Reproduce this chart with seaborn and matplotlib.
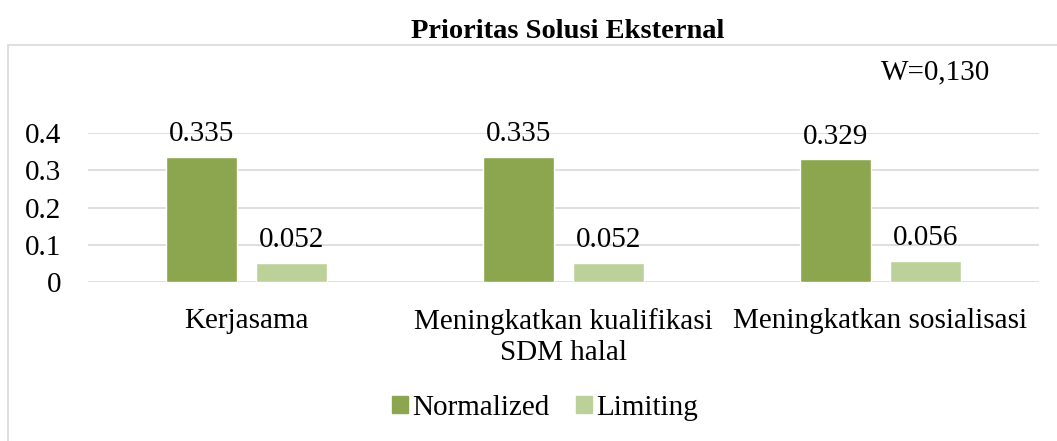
import pandas as pd
import matplotlib.pyplot as plt
import matplotlib.patches as mpatches
import seaborn as sns

# Data
kategori = ['Kerjasama', 'Meningkatkan kualifikasi\nSDM halal', 'Meningkatkan sosialisasi']
normalized = [0.335, 0.335, 0.329]
limiting = [0.052, 0.052, 0.056]
label_norm = ['0.335', '0.335', '0.329']
label_lim = ['0.052', '0.052', '0.056']
y_ticks = [0, 0.1, 0.2, 0.3, 0.4]
y_ticklabels = ['0', '0.1', '0.2', '0.3', '0.4']

df = pd.DataFrame({
    'Kategori': kategori * 2,
    'Nilai': normalized + limiting,
    'Tipe': ['Normalized'] * 3 + ['Limiting'] * 3,
})

sns.set_theme(style='white')
plt.rcParams['font.family'] = ['Liberation Serif', 'DejaVu Serif']
plt.rcParams['text.color'] = 'black'
plt.rcParams['xtick.color'] = 'black'
plt.rcParams['ytick.color'] = 'black'

warna = {'Normalized': '#8BA64E', 'Limiting': '#BCD19A'}
fs = 21

fig = plt.figure(figsize=(10.57, 4.41), dpi=100)
ax = fig.add_axes([88 / 1057, 1 - 282 / 441, 951 / 1057, 149 / 441])

sns.barplot(data=df, x='Kategori', y='Nilai', hue='Tipe', palette=warna,
            width=0.568, gap=0.21, ax=ax, legend=False, saturation=1)

# Label nilai
for cont, labs in zip(ax.containers, [label_norm, label_lim]):
    ax.bar_label(cont, labels=labs, padding=7, fontsize=fs, color='black')

ax.set_ylim(0, 0.4)
ax.set_yticks(y_ticks)
ax.set_yticklabels(y_ticklabels, fontsize=fs)
ax.set_xlim(-0.5, 2.5)
ax.grid(axis='y', color='#D9D9D9', linewidth=1.2)
ax.set_axisbelow(True)
for s in ax.spines.values():
    s.set_visible(False)
ax.tick_params(axis='both', length=0)
ax.tick_params(axis='y', pad=19)
ax.tick_params(axis='x', pad=19)
ax.set_xlabel('')
ax.set_ylabel('')
for t in ax.get_xticklabels():
    t.set_fontsize(fs)
    t.set_linespacing(1.25)

# Border grafik
fig.patches.append(mpatches.Rectangle((8 / 1057, -0.01), 1.02, 1 - 45 / 441 + 0.01,
                                      transform=fig.transFigure, fill=False,
                                      edgecolor='#D9D9D9', linewidth=1.2))

fig.text(568 / 1057, 1 - 32 / 441, 'Prioritas Solusi Eksternal', ha='center', va='center',
         fontsize=20.5, fontweight='bold')
fig.text(936 / 1057, 1 - 72 / 441, 'W=0,130', ha='center', va='center', fontsize=fs)

handles = [mpatches.Patch(color=warna['Normalized'], label='Normalized'),
           mpatches.Patch(color=warna['Limiting'], label='Limiting')]
fig.legend(handles=handles, loc='center', bbox_to_anchor=(545 / 1057, 1 - 408 / 441),
           ncol=2, frameon=False, fontsize=fs, handlelength=0.55, handleheight=0.55,
           handletextpad=0.15, columnspacing=0.9)

plt.savefig('out.png', dpi=100)
